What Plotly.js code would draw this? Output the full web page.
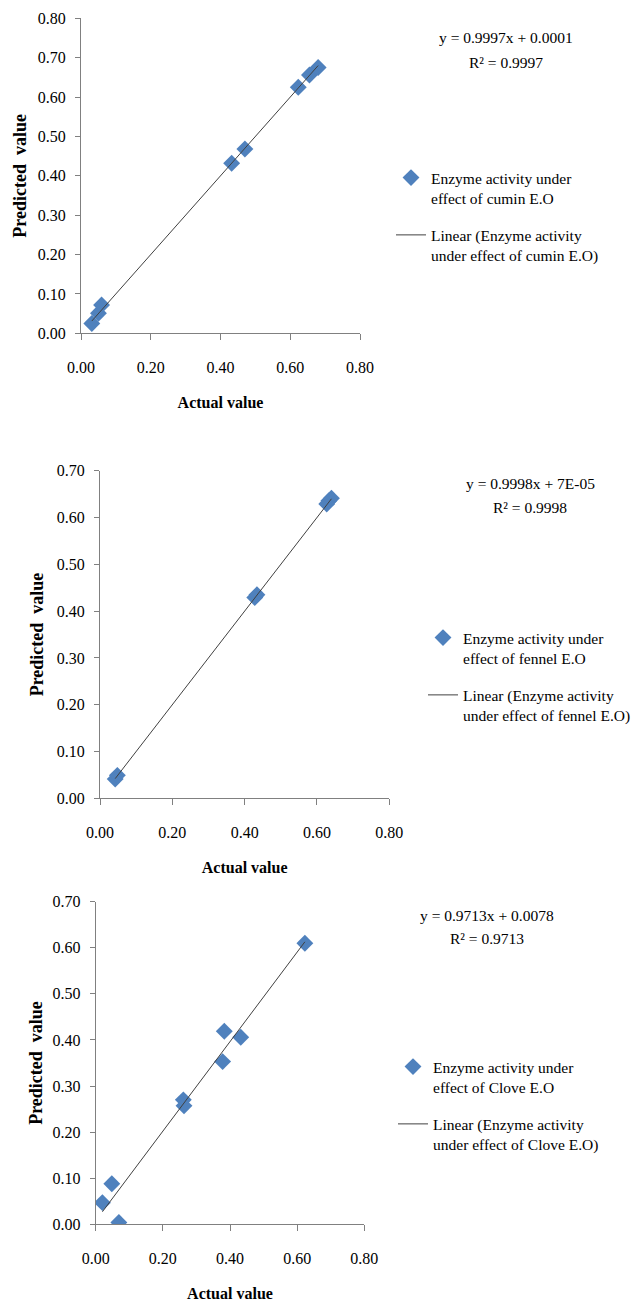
<!DOCTYPE html>
<html>
<head>
<meta charset="utf-8">
<script src="https://cdn.plot.ly/plotly-3.0.1.min.js"></script>
<style>html,body{margin:0;padding:0;background:#fff;}#chart{width:637px;height:1303px;}</style>
</head>
<body>
<div id="chart"></div>
<script>
// ---- Data ----
const cuminActual    = [0.031, 0.050, 0.059, 0.432, 0.470, 0.623, 0.655, 0.680];
const cuminPredicted = [0.025, 0.051, 0.072, 0.432, 0.468, 0.625, 0.656, 0.675];
const cuminSlope = 0.9997, cuminIntercept = 0.0001;

const fennelActual    = [0.042, 0.048, 0.428, 0.434, 0.627, 0.633, 0.640];
const fennelPredicted = [0.041, 0.049, 0.429, 0.435, 0.629, 0.636, 0.641];
const fennelSlope = 0.9998, fennelIntercept = 0.00007;

const cloveActual    = [0.020, 0.048, 0.069, 0.261, 0.263, 0.378, 0.383, 0.432, 0.623];
const clovePredicted = [0.047, 0.088, 0.004, 0.270, 0.257, 0.353, 0.419, 0.406, 0.610];
const cloveSlope = 0.9713, cloveIntercept = 0.0078;

const seriesNames = [
  "Enzyme activity under<br>effect of cumin E.O",
  "Enzyme activity under<br>effect of fennel E.O",
  "Enzyme activity under<br>effect of Clove E.O"
];
const trendNames = [
  "Linear (Enzyme activity<br>under effect of cumin E.O)",
  "Linear (Enzyme activity<br>under effect of fennel E.O)",
  "Linear (Enzyme activity<br>under effect of Clove E.O)"
];
const equations = [
  ["y = 0.9997x + 0.0001", "R\u00b2 = 0.9997"],
  ["y = 0.9998x + 7E-05", "R\u00b2 = 0.9998"],
  ["y = 0.9713x + 0.0078", "R\u00b2 = 0.9713"]
];
const xTickVals = [0, 0.2, 0.4, 0.6, 0.8];
const xTickText = ["0.00", "0.20", "0.40", "0.60", "0.80"];

// ---- Layout helpers ----
const W = 637, H = 1303;
const FONT = "'Liberation Serif', 'Times New Roman', Times, serif";
const px = v => v / W;
const py = v => 1 - v / H;

const panels = [
  {ax: cuminActual, ay: cuminPredicted, m: cuminSlope, b: cuminIntercept, ymax: 0.8,
   xd: [81, 360], yd: [333.3, 18.3], leg: [391, 161], eq: [506, 38, 62], ys: 6},
  {ax: fennelActual, ay: fennelPredicted, m: fennelSlope, b: fennelIntercept, ymax: 0.7,
   xd: [100, 389.3], yd: [798.3, 470.7], leg: [423, 621], eq: [530, 483, 507], ys: 8},
  {ax: cloveActual, ay: clovePredicted, m: cloveSlope, b: cloveIntercept, ymax: 0.7,
   xd: [95.7, 364.3], yd: [1224.3, 901.7], leg: [393, 1050], eq: [487, 915, 938], ys: 5}
];

const traces = [];
const layout = {
  width: W, height: H,
  margin: {l: 0, r: 0, t: 0, b: 0},
  paper_bgcolor: "#fff", plot_bgcolor: "#fff",
  font: {family: FONT, size: 16, color: "#000"},
  showlegend: true,
  annotations: []
};

panels.forEach((p, i) => {
  const n = i === 0 ? "" : String(i + 1);
  const xa = "x" + n, ya = "y" + n;
  const legName = "legend" + n;
  const xmin = Math.min(...p.ax), xmax = Math.max(...p.ax);
  traces.push({
    type: "scatter", mode: "markers", x: p.ax, y: p.ay, xaxis: xa, yaxis: ya,
    name: seriesNames[i], legend: legName, legendgroup: "s" + i,
    marker: {symbol: "diamond", size: 13, color: "#4F81BD", line: {width: 0}}
  });
  traces.push({
    type: "scatter", mode: "lines", x: [xmin, xmax], y: [p.m * xmin + p.b, p.m * xmax + p.b],
    xaxis: xa, yaxis: ya, name: trendNames[i], legend: legName, legendgroup: "t" + i,
    line: {color: "#404040", width: 1}
  });
  layout["xaxis" + n] = {
    domain: [px(p.xd[0]), px(p.xd[1])], anchor: ya, range: [0, 0.8],
    tickvals: xTickVals, ticktext: xTickText, ticks: "outside", ticklen: 6, tickcolor: "#808080",
    showline: true, linecolor: "#808080", linewidth: 1, showgrid: false, zeroline: false,
    ticklabelstandoff: 13, automargin: false, fixedrange: true,
    tickfont: {family: FONT, size: 16, color: "#000"},
    title: {text: "<b>Actual value</b>", font: {family: FONT, size: 16, color: "#000"}, standoff: 22}
  };
  layout["yaxis" + n] = {
    domain: [py(p.yd[0]), py(p.yd[1])], anchor: xa, range: [0, p.ymax],
    dtick: 0.1, tick0: 0, tickformat: ".2f", ticks: "outside", ticklen: 5, tickcolor: "#808080",
    showline: true, linecolor: "#808080", linewidth: 1, showgrid: false, zeroline: false,
    ticklabelstandoff: 6, automargin: false, fixedrange: true,
    tickfont: {family: FONT, size: 16, color: "#000"},
    title: {text: "<b>Predicted\u00a0 value</b>", font: {family: FONT, size: 18, color: "#000"}, standoff: p.ys}
  };
  layout[legName] = {
    x: px(p.leg[0]), y: py(p.leg[1]), xanchor: "left", yanchor: "top",
    bgcolor: "rgba(0,0,0,0)", borderwidth: 0, valign: "top",
    tracegroupgap: 14, font: {family: FONT, size: 15.5, color: "#000"}
  };
  layout.annotations.push(
    {xref: "paper", yref: "paper", x: px(p.eq[0]), y: py(p.eq[1]), text: equations[i][0],
     showarrow: false, xanchor: "center", yanchor: "middle", font: {family: FONT, size: 15.5, color: "#000"}},
    {xref: "paper", yref: "paper", x: px(p.eq[0]), y: py(p.eq[2]), text: equations[i][1],
     showarrow: false, xanchor: "center", yanchor: "middle", font: {family: FONT, size: 15.5, color: "#000"}}
  );
});

Plotly.newPlot("chart", traces, layout, {displayModeBar: false, staticPlot: true});
</script>
</body>
</html>
